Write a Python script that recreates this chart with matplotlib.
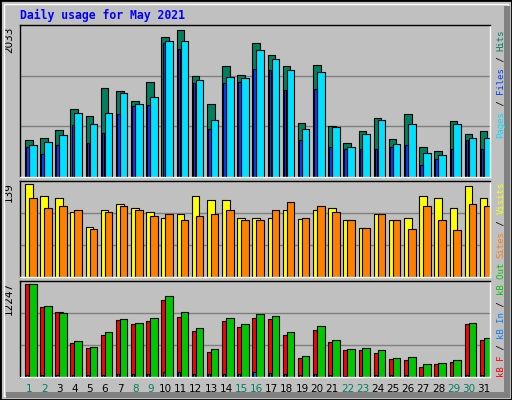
import matplotlib
matplotlib.use("Agg")
import matplotlib.pyplot as plt
import numpy as np
from matplotlib.patches import Rectangle

days = np.arange(1, 32)
hits = [507, 534, 642, 925, 830, 1207, 1167, 1032, 1288, 1894, 1988, 1369, 992, 1503, 1382, 1813,
        1652, 1503, 736, 1517, 696, 467, 629, 804, 521, 857, 400, 346, 763, 588, 629]
files = [440, 480, 575, 871, 723, 871, 1140, 992, 1086, 1840, 1840, 1315, 776, 1355, 1342, 1719,
         1598, 1450, 656, 1423, 683, 413, 588, 776, 453, 723, 332, 292, 723, 534, 534]
pages = [400, 306, 427, 709, 467, 602, 857, 965, 979, 1813, 1732, 1275, 656, 1275, 1288, 1463,
         1450, 1180, 507, 1194, 400, 373, 373, 373, 413, 427, 157, 238, 386, 507, 386]
visits = [139, 121, 118, 97, 75, 101, 110, 103, 98, 89, 95, 121, 116, 116, 89, 89,
          89, 100, 87, 101, 103, 86, 74, 94, 86, 89, 121, 119, 103, 136, 118]
sites = [118, 103, 107, 101, 72, 98, 107, 100, 92, 95, 86, 92, 95, 101, 86, 86,
         100, 113, 89, 106, 98, 86, 74, 94, 86, 72, 107, 86, 71, 110, 107]
kb_f = [12247, 9262, 8594, 4453, 3785, 5522, 7526, 6991, 7392, 10197, 7926, 6056, 3251, 7392, 6590, 7793,
        7659, 5522, 2449, 6190, 4587, 3518, 3518, 3117, 2316, 2182, 1380, 1648, 1915, 6991, 4854]
kb_out = [12247, 9396, 8461, 4720, 3919, 5922, 7659, 7125, 7793, 10732, 8594, 6457, 3651, 7793, 6991, 8327,
          8060, 5922, 2716, 6724, 4854, 3651, 3785, 3518, 2449, 2583, 1648, 1781, 2182, 7125, 5121]
kb_in = [250, 220, 240, 260, 230, 300, 330, 350, 360, 620, 600, 450, 350, 450, 400, 620,
         500, 450, 240, 450, 260, 120, 180, 200, 220, 230, 80, 100, 160, 240, 240]
weekend = [1, 2, 8, 9, 15, 16, 22, 23, 29, 30]

BG = "#C0C0C0"
fig = plt.figure(figsize=(5.12, 4.0), dpi=100, facecolor=BG)
W, H = 512, 400

# outer frame
fig.patches.append(Rectangle((0, 0), 1, 1, transform=fig.transFigure, fill=False,
                             edgecolor="black", lw=2))
fig.patches.append(Rectangle((4 / W, 4 / H), 1 - 8 / W, 1 - 8 / H, transform=fig.transFigure,
                             fill=False, edgecolor="white", lw=1))
fig.patches.append(Rectangle((1 - 8 / W, 6 / H), 6 / W, 1 - 12 / H, transform=fig.transFigure,
                             color="#808080", lw=0))
fig.patches.append(Rectangle((6 / W, 2 / H), 1 - 8 / W, 6 / H, transform=fig.transFigure,
                             color="#808080", lw=0))

fig.text(20 / W, 1 - 15 / H, "Daily usage for May 2021", color="#0000FF", family="DejaVu Sans Mono",
         weight="bold", fontsize=8.3, va="center", ha="left")

left, width = 20 / W, 470 / W


def panel(top, bottom, ymax, label):
    ax = fig.add_axes([left, 1 - bottom / H, width, (bottom - top) / H])
    ax.set_facecolor(BG)
    ax.set_xlim(0, 31)
    ax.set_ylim(0, ymax)
    for f in (1 / 3, 2 / 3):
        ax.axhline(ymax * f, color="#808080", lw=1, zorder=0)
    ax.set_yticks([])
    for s in ax.spines.values():
        s.set_color("black")
        s.set_linewidth(1)
    ax.spines["bottom"].set_color("white")
    ax.spines["right"].set_color("white")
    ax.text(-0.013, 0.99, label, transform=ax.transAxes, rotation=90, ha="right", va="top",
            fontsize=7.5)
    return ax


def side_label(bottom_px, parts):
    step = 5.45
    y = bottom_px
    for txt, col in parts:
        fig.text(501 / W, 1 - y / H, txt, color=col, family="DejaVu Sans Mono", fontsize=6.5,
                 rotation=90, ha="left", va="center", rotation_mode="anchor")
        y -= step * len(txt)


x0 = days - 1
ek = dict(edgecolor="black", linewidth=0.8, align="edge")

ax1 = panel(25, 177, 2060, "2033")
ax1.bar(x0 + 0.33, hits, 0.50, color="#008060", **ek)
ax1.bar(x0 + 0.59, files, 0.50, color="#00E0FF", **ek)
ax1.bar(x0 + 0.40, pages, 0.17, color="#0040FF", **ek)
ax1.set_xticks([])

ax2 = panel(181, 277, 144, "139")
ax2.bar(x0 + 0.33, visits, 0.50, color="#FFFF00", **ek)
ax2.bar(x0 + 0.59, sites, 0.50, color="#FF8000", **ek)
ax2.set_xticks([])

ax3 = panel(281, 377, 12650, "12247")
ax3.bar(x0 + 0.33, kb_f, 0.50, color="#FF0000", **ek)
ax3.bar(x0 + 0.40, kb_in, 0.14, color="#0080FF", **ek)
ax3.bar(x0 + 0.59, kb_out, 0.50, color="#00C800", **ek)
ax3.set_xticks(x0 + 0.6)
ax3.set_xticklabels([str(d) for d in days], fontsize=7.5)
ax3.tick_params(axis="x", length=0, pad=5)
for d, lab in zip(days, ax3.get_xticklabels()):
    lab.set_color("#008060" if d in weekend else "black")

side_label(138, [("Pages", "#00E0FF"), (" / ", "black"), ("Files", "#0040FF"),
                 (" / ", "black"), ("Hits", "#008060")])
side_label(258, [("Sites", "#FF8000"), (" / ", "black"), ("Visits", "#FFFF00")])
side_label(377, [("kB F", "#FF0000"), (" / ", "black"), ("kB In", "#0080FF"),
                 (" / ", "black"), ("kB Out", "#00C800")])

fig.savefig("out.png", dpi=100, facecolor=BG)
